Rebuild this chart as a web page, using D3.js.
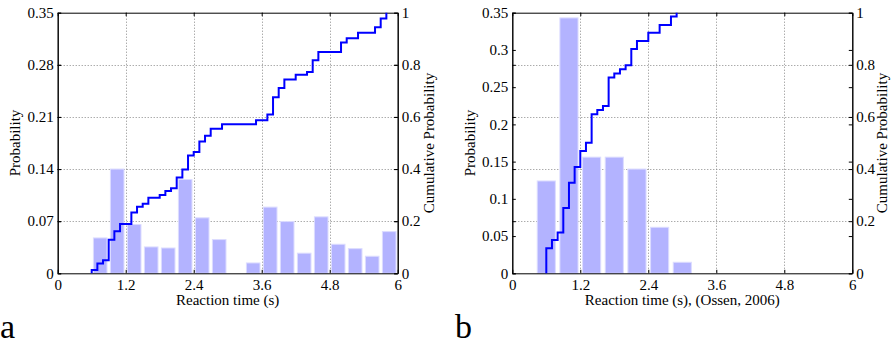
<!DOCTYPE html>
<html>
<head>
<meta charset="utf-8">
<script src="https://cdn.jsdelivr.net/npm/d3@7"></script>
<style>
  body { margin: 0; background: #fff; }
</style>
</head>
<body>
<div id="container"></div>
<script>
// ---- data ----
const xTicks = [0, 1.2, 2.4, 3.6, 4.8, 6];
const xTickLabels = ["0", "1.2", "2.4", "3.6", "4.8", "6"];
const cumTicks = [0, 0.2, 0.4, 0.6, 0.8, 1];
const cumTickLabels = ["0", "0.2", "0.4", "0.6", "0.8", "1"];

// panel a
const probTicksA = [0, 0.07, 0.14, 0.21, 0.28, 0.35];
const probTickLabelsA = ["0", "0.07", "0.14", "0.21", "0.28", "0.35"];
const binsA = [0.75, 1.05, 1.35, 1.65, 1.95, 2.25, 2.55, 2.85, 3.15, 3.45, 3.75, 4.05, 4.35, 4.65, 4.95, 5.25, 5.55, 5.85];
const probA = [0.0475, 0.14, 0.0655, 0.0354, 0.034, 0.126, 0.0745, 0.0453, 0, 0.0139, 0.0889, 0.0695, 0.027, 0.0758, 0.039, 0.0331, 0.0229, 0.056];
const cumXA = [0.6, 0.6, 0.7, 0.8, 0.9, 1.0, 1.1, 1.3, 1.4, 1.5, 1.6, 1.8, 1.9, 2.0, 2.1, 2.2, 2.3, 2.4, 2.5, 2.6, 2.7, 2.9, 3.5, 3.7, 3.8, 3.9, 4.0, 4.2, 4.4, 4.5, 4.6, 5.0, 5.1, 5.3, 5.6, 5.7, 5.8];
const cumYA = [0, 0.013, 0.038, 0.050, 0.129, 0.161, 0.189, 0.233, 0.255, 0.267, 0.290, 0.300, 0.316, 0.326, 0.368, 0.398, 0.452, 0.465, 0.506, 0.528, 0.555, 0.572, 0.587, 0.609, 0.676, 0.711, 0.744, 0.762, 0.772, 0.818, 0.849, 0.886, 0.902, 0.923, 0.944, 0.978, 1.0];

// panel b
const probTicksB = [0, 0.05, 0.1, 0.15, 0.2, 0.25, 0.3, 0.35];
const probTickLabelsB = ["0", "0.05", "0.1", "0.15", "0.2", "0.25", "0.3", "0.35"];
const binsB = [0.6, 1.0, 1.4, 1.8, 2.2, 2.6, 3.0];
const probB = [0.124, 0.343, 0.156, 0.156, 0.140, 0.0618, 0.0148];
const cumXB = [0.6, 0.6, 0.7, 0.8, 0.9, 1.0, 1.1, 1.2, 1.3, 1.4, 1.5, 1.6, 1.7, 1.8, 1.9, 2.0, 2.1, 2.2, 2.4, 2.6, 2.8, 2.9];
const cumYB = [0, 0.096, 0.128, 0.157, 0.251, 0.347, 0.408, 0.469, 0.501, 0.610, 0.627, 0.642, 0.751, 0.767, 0.783, 0.798, 0.861, 0.891, 0.923, 0.953, 0.985, 1.0];

const width = 895, height = 345;
const plotTop = 12.7, plotBottom = 273.3, plotW = 340;
const fontSize = 15, tickLen = 3.5;
const serif = "'Liberation Serif', 'Times New Roman', Times, 'DejaVu Serif', serif";

const svg = d3.select("#container")
  .append("svg")
    .attr("width", width)
    .attr("height", height);

function panel(o) {
  const x = d3.scaleLinear().domain([0, 6]).range([o.left, o.left + plotW]);
  const yP = d3.scaleLinear().domain([0, 0.35]).range([plotBottom, plotTop]);
  const yC = d3.scaleLinear().domain([0, 1]).range([plotBottom, plotTop]);
  const g = svg.append("g");

  // dotted grid
  const grid = g.append("g")
    .attr("stroke", "#888")
    .attr("stroke-width", 1)
    .attr("stroke-dasharray", "1,2");
  grid.selectAll("line.v").data(xTicks.slice(1, -1)).join("line")
    .attr("class", "v")
    .attr("x1", d => Math.round(x(d)) + 0.5).attr("x2", d => Math.round(x(d)) + 0.5)
    .attr("y1", plotTop).attr("y2", plotBottom);
  grid.selectAll("line.h").data(cumTicks.slice(1, -1)).join("line")
    .attr("class", "h")
    .attr("y1", d => Math.round(yC(d)) + 0.5).attr("y2", d => Math.round(yC(d)) + 0.5)
    .attr("x1", o.left).attr("x2", o.left + plotW);

  // histogram bars
  const bw = (x(o.bins[1]) - x(o.bins[0])) * 0.8;
  g.append("g")
    .attr("fill", "#b3b3ff")
    .attr("stroke", "#dcdcff")
    .attr("stroke-width", 1)
  .selectAll("rect")
    .data(o.bins.map((b, i) => [b, o.prob[i]]).filter(d => d[1] > 0))
    .join("rect")
      .attr("x", d => x(d[0]) - bw / 2)
      .attr("width", bw)
      .attr("y", d => yP(d[1]))
      .attr("height", d => plotBottom - yP(d[1]));

  // axes (inward ticks, box)
  const style = sel => {
    sel.attr("font-family", serif).attr("font-size", fontSize);
    sel.selectAll("text").style("font-family", serif).style("font-size", fontSize + "px").attr("fill", "#000");
    sel.select(".domain").attr("stroke", "#000");
    sel.selectAll(".tick line").attr("stroke", "#000");
  };
  g.append("g").attr("transform", `translate(0,${plotBottom})`)
    .call(d3.axisBottom(x).tickValues(xTicks).tickFormat((d, i) => xTickLabels[i])
      .tickSizeInner(-tickLen).tickSizeOuter(0).tickPadding(6)).call(style);
  g.append("g").attr("transform", `translate(0,${plotTop})`)
    .call(d3.axisTop(x).tickValues(xTicks).tickFormat("")
      .tickSizeInner(-tickLen).tickSizeOuter(0)).call(style);
  g.append("g").attr("transform", `translate(${o.left},0)`)
    .call(d3.axisLeft(yP).tickValues(o.probTicks).tickFormat((d, i) => o.probLabels[i])
      .tickSizeInner(-tickLen).tickSizeOuter(0).tickPadding(4)).call(style);
  g.append("g").attr("transform", `translate(${o.left},0)`)
    .call(d3.axisLeft(yC).tickValues(cumTicks).tickFormat("")
      .tickSizeInner(-tickLen).tickSizeOuter(0)).call(style);
  g.append("g").attr("transform", `translate(${o.left + plotW},0)`)
    .call(d3.axisRight(yC).tickValues(cumTicks).tickFormat((d, i) => cumTickLabels[i])
      .tickSizeInner(-tickLen).tickSizeOuter(0).tickPadding(4)).call(style);
  g.append("g").attr("transform", `translate(${o.left + plotW},0)`)
    .call(d3.axisRight(yP).tickValues(o.probTicks).tickFormat("")
      .tickSizeInner(-tickLen).tickSizeOuter(0)).call(style);

  // cumulative stair line
  const line = d3.line()
    .x(d => x(d[0]))
    .y(d => yC(d[1]))
    .curve(d3.curveStepAfter);
  g.append("path")
    .datum(o.cumX.map((v, i) => [v, o.cumY[i]]))
    .attr("fill", "none")
    .attr("stroke", "#0000ff")
    .attr("stroke-width", 2)
    .attr("d", line);

  // labels
  const label = (sel, size) => sel.style("font-family", serif).style("font-size", size + "px").attr("fill", "#000");
  g.append("text")
    .attr("x", o.left + plotW / 2).attr("y", 305)
    .attr("text-anchor", "middle").call(label, fontSize)
    .text(o.xLabel);
  g.append("text")
    .attr("transform", `translate(${o.yLabelX},${(plotTop + plotBottom) / 2}) rotate(-90)`)
    .attr("text-anchor", "middle").call(label, fontSize)
    .text("Probability");
  g.append("text")
    .attr("transform", `translate(${o.cumLabelX},${(plotTop + plotBottom) / 2}) rotate(-90)`)
    .attr("text-anchor", "middle").call(label, fontSize)
    .text("Cumulative Probability");
  g.append("text")
    .attr("x", o.tagX).attr("y", 338)
    .call(label, 34)
    .text(o.tag);
}

panel({
  left: 57.7, bins: binsA, prob: probA, cumX: cumXA, cumY: cumYA,
  probTicks: probTicksA, probLabels: probTickLabelsA,
  xLabel: "Reaction time (s)", yLabelX: 20, cumLabelX: 434, tag: "a", tagX: 0
});
panel({
  left: 512.3, bins: binsB, prob: probB, cumX: cumXB, cumY: cumYB,
  probTicks: probTicksB, probLabels: probTickLabelsB,
  xLabel: "Reaction time (s), (Ossen, 2006)", yLabelX: 475, cumLabelX: 887, tag: "b", tagX: 455
});
</script>
</body>
</html>
